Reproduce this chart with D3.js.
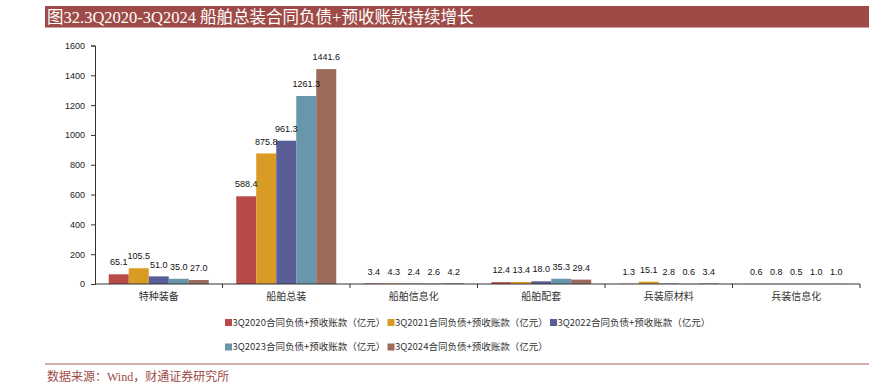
<!DOCTYPE html>
<html>
<head>
<meta charset="utf-8">
<script src="https://cdn.jsdelivr.net/npm/d3@7"></script>
<style>
  body { margin: 0; background: #fff; }
  svg { display: block; }
</style>
</head>
<body>
<script>
// categories on the x axis
var categories = ["特种装备", "船舶总装", "船舶信息化", "船舶配套", "兵装原材料", "兵装信息化"];

// one series per quarter (亿元)
var seriesNames = [
    "3Q2020合同负债+预收账款（亿元）",
    "3Q2021合同负债+预收账款（亿元）",
    "3Q2022合同负债+预收账款（亿元）",
    "3Q2023合同负债+预收账款（亿元）",
    "3Q2024合同负债+预收账款（亿元）"
];
var v2020 = [65.1, 588.4, 3.4, 12.4, 1.3, 0.6];
var v2021 = [105.5, 875.8, 4.3, 13.4, 15.1, 0.8];
var v2022 = [51.0, 961.3, 2.4, 18.0, 2.8, 0.5];
var v2023 = [35.0, 1261.3, 2.6, 35.3, 0.6, 1.0];
var v2024 = [27.0, 1441.6, 4.2, 29.4, 3.4, 1.0];
var seriesValues = [v2020, v2021, v2022, v2023, v2024];

var yTicks = [0, 200, 400, 600, 800, 1000, 1200, 1400, 1600];
var colors = ["#B84A47", "#DA9B24", "#5A5E96", "#6896AA", "#9C6B5C"];

var title = "图32.3Q2020-3Q2024 船舶总装合同负债+预收账款持续增长";
var source = "数据来源：Wind，财通证券研究所";

var width = 892, height = 385;
var sansCJK = "'Noto Sans CJK SC', 'Noto Sans', sans-serif";
var serif = "'Liberation Serif', 'Noto Sans CJK SC', serif";

var svg = d3.select("body").append("svg")
    .attr("width", width)
    .attr("height", height);

//title bar
svg.append("rect")
    .attr("x", 45).attr("y", 6)
    .attr("width", 824).attr("height", 21.5)
    .attr("fill", "#9E4B47");
svg.append("text")
    .attr("x", 47).attr("y", 17)
    .attr("dy", "0.36em")
    .attr("fill", "#fff")
    .style("font-family", serif)
    .style("font-size", "16.5px")
    .text(title);

//plot area
var x0 = d3.scaleBand()
    .domain(categories)
    .range([95, 860]);

var x1 = d3.scaleBand()
    .domain(d3.range(seriesNames.length))
    .range([0, x0.bandwidth()])
    .paddingOuter(0.6875);

var y = d3.scaleLinear()
    .domain([0, 1600])
    .range([284, 45.5]);

//y axis
var yAxis = svg.append("g")
    .attr("transform", "translate(95,0)")
    .call(d3.axisLeft(y).tickValues(yTicks).tickSize(4).tickPadding(6).tickFormat(d3.format("d")));
yAxis.select(".domain").attr("stroke", "#333");
yAxis.selectAll(".tick line").attr("stroke", "#333");
yAxis.selectAll("text")
    .attr("fill", "#222")
    .style("font-family", "'Liberation Sans', sans-serif")
    .style("font-size", "9px");

//bars
var groups = svg.selectAll(".group")
    .data(categories)
    .enter()
    .append("g")
    .attr("class", "group")
    .attr("transform", function(d){ return "translate(" + x0(d) + ",0)"; });

groups.selectAll("rect")
    .data(function(d, i){
        return seriesValues.map(function(s, k){ return {k: k, v: s[i]}; });
    })
    .enter()
    .append("rect")
    .attr("x", function(d){ return x1(d.k); })
    .attr("y", function(d){ return y(d.v); })
    .attr("width", x1.bandwidth())
    .attr("height", function(d){ return y(0) - y(d.v); })
    .attr("fill", function(d){ return colors[d.k]; });

//value labels
groups.selectAll(".val")
    .data(function(d, i){
        return seriesValues.map(function(s, k){ return {k: k, v: s[i]}; });
    })
    .enter()
    .append("text")
    .attr("class", "val")
    .attr("x", function(d){ return x1(d.k) + x1.bandwidth() / 2; })
    .attr("y", function(d){ return y(d.v) - 12; })
    .attr("dy", "0.35em")
    .attr("text-anchor", "middle")
    .attr("fill", "#111")
    .style("font-family", "'Liberation Sans', sans-serif")
    .style("font-size", "9px")
    .text(function(d){ return d3.format(".1f")(d.v); });

//x axis
var xAxisG = svg.append("g").attr("transform", "translate(0,284)");
xAxisG.append("line")
    .attr("x1", 95).attr("x2", 860)
    .attr("stroke", "#333");
xAxisG.selectAll(".xt")
    .data(categories)
    .enter()
    .append("line")
    .attr("x1", function(d){ return x0(d) + x0.bandwidth(); })
    .attr("x2", function(d){ return x0(d) + x0.bandwidth(); })
    .attr("y1", 0).attr("y2", 4)
    .attr("stroke", "#333");
xAxisG.selectAll(".xl")
    .data(categories)
    .enter()
    .append("text")
    .attr("x", function(d){ return x0(d) + x0.bandwidth() / 2; })
    .attr("y", 12)
    .attr("dy", "0.35em")
    .attr("text-anchor", "middle")
    .attr("fill", "#333")
    .style("font-family", sansCJK)
    .style("font-size", "10px")
    .text(function(d){ return d; });

//legend, two rows
var legend = svg.selectAll(".legend")
    .data(seriesNames)
    .enter()
    .append("g")
    .attr("class", "legend")
    .attr("transform", function(d, i){
        var col = i < 3 ? i : i - 3;
        var row = i < 3 ? 0 : 1;
        return "translate(" + (225 + col * 162.5) + "," + (322.5 + row * 24.5) + ")";
    });
legend.append("rect")
    .attr("x", 0).attr("y", -3.5)
    .attr("width", 7).attr("height", 7)
    .attr("fill", function(d, i){ return colors[i]; });
legend.append("text")
    .attr("x", 7.5)
    .attr("dy", "0.35em")
    .attr("fill", "#333")
    .style("font-family", sansCJK)
    .style("font-size", "9.5px")
    .text(function(d){ return d; });

//source line
svg.append("line")
    .attr("x1", 45).attr("x2", 869)
    .attr("y1", 364).attr("y2", 364)
    .attr("stroke", "#B0605E");
svg.append("text")
    .attr("x", 47).attr("y", 377)
    .attr("dy", "0.36em")
    .attr("fill", "#9E4B47")
    .style("font-family", serif)
    .style("font-size", "12px")
    .text(source);
</script>
</body>
</html>
